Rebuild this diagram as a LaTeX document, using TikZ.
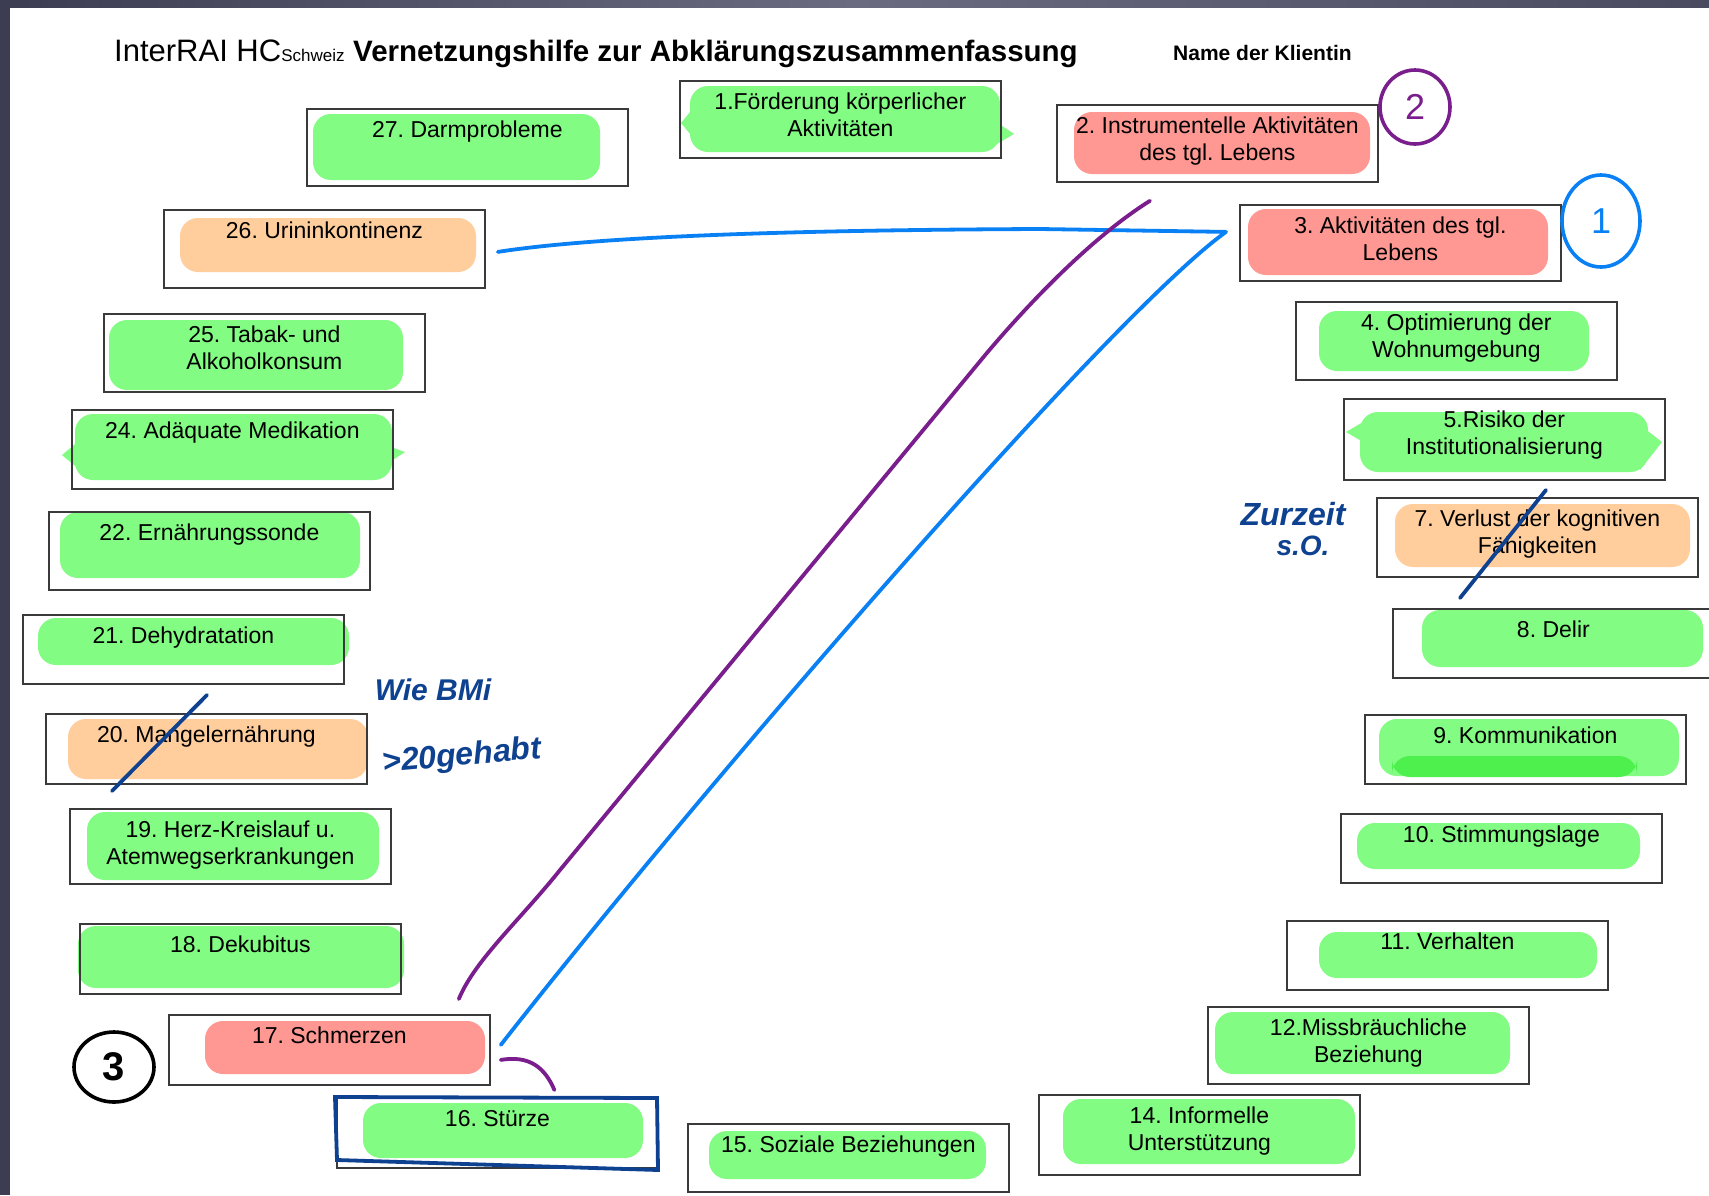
\documentclass[tikz,border=0pt]{standalone}
\usepackage{fontspec}
\setmainfont{Liberation Sans}
\usepackage{tikz}
\usetikzlibrary{shapes.geometric,positioning}
\definecolor{mgreen}{HTML}{82FC82}
\definecolor{mdeep}{HTML}{4EF04E}
\definecolor{msalmon}{HTML}{FF9892}
\definecolor{mpeach}{HTML}{FFCE9C}
\definecolor{inkblue}{HTML}{0A80F5}
\definecolor{inkpurple}{HTML}{7A1E8E}
\definecolor{inknavy}{HTML}{0E4290}
\definecolor{frameline}{HTML}{3A3A3A}
\definecolor{screendark}{HTML}{3C3D52}
\definecolor{screenlight}{HTML}{6A6B80}
\frenchspacing

\begin{document}
\begin{tikzpicture}[x=1pt, y=-1pt,
  probbox/.style={rectangle, draw=frameline, line width=1.8pt, minimum width=321pt,
                  anchor=north west, inner sep=0pt},
  probtext/.style={anchor=north, yshift=-13pt, align=center, inner sep=0pt,
                   font=\fontsize{23}{27}\selectfont},
  marker/.style={rounded corners=18pt},
  ink/.style={line width=3.8pt, line cap=round, line join=round},
  circ/.style={ellipse, draw, line width=3.6pt, inner sep=0pt,
               font=\fontsize{36}{36}\selectfont},
  hand/.style={text=inknavy, inner sep=0pt, font=\bfseries\itshape\fontsize{32}{32}\selectfont}
]
  \useasboundingbox (0,0) rectangle (1709,1195);
  \fill[screendark] (0,0) rectangle (1709,1195);
  \shade[left color=screendark, right color=screendark!70!screenlight, middle color=screenlight] (0,0) rectangle (1709,8);
  \fill[white] (10,8) rectangle (1709,1195);

  \node[anchor=base west, inner sep=0pt, font=\fontsize{31}{31}\selectfont] (title) at (114,61)
    {InterRAI HC{\fontsize{17}{17}\selectfont Schweiz} {\bfseries\fontsize{29.5}{30}\selectfont Vernetzungshilfe zur Abklärungszusammenfassung}};
  \node[anchor=base west, inner sep=0pt, font=\bfseries\fontsize{21}{21}\selectfont] (client) at (1173,60) {Name der Klientin};

  \fill[marker, mgreen] (313,114) rectangle (600,180);
  \fill[marker, mgreen] (690,86) rectangle (1000,152);
  \fill[mgreen] (700,100) -- (681,123) -- (700,146) -- cycle;
  \fill[mgreen] (990,118) -- (1014,134) -- (990,148) -- cycle;
  \fill[marker, msalmon] (1074,112) rectangle (1370,174);
  \fill[marker, msalmon] (1248,209) rectangle (1548,275);
  \fill[marker, mgreen] (1319,311) rectangle (1589,371);
  \fill[marker, mgreen] (1360,412) rectangle (1648,472);
  \fill[mgreen] (1370,418) -- (1346,432) -- (1370,446) -- cycle;
  \fill[mgreen] (1640,425) -- (1662,442) -- (1640,470) -- cycle;
  \fill[marker, mpeach] (1395,504) rectangle (1690,567);
  \fill[marker, mgreen] (1422,610) rectangle (1703,667);
  \fill[marker, mgreen] (1379,719) rectangle (1679,776);
  \fill[marker, mdeep] (1392,756) rectangle (1637,777);
  \fill[marker, mgreen] (1357,823) rectangle (1640,869);
  \fill[marker, mgreen] (1319,932) rectangle (1597,978);
  \fill[marker, mgreen] (1215,1012) rectangle (1510,1074);
  \fill[marker, mgreen] (1063,1099) rectangle (1355,1164);
  \fill[marker, mgreen] (709,1131) rectangle (986,1179);
  \fill[marker, mgreen] (363,1103) rectangle (643,1158);
  \fill[marker, msalmon] (205,1021) rectangle (485,1074);
  \fill[marker, mgreen] (78,926) rectangle (404,988);
  \fill[marker, mgreen] (87,812) rectangle (379,880);
  \fill[marker, mpeach] (68,719) rectangle (368,779);
  \fill[marker, mgreen] (38,618) rectangle (349,665);
  \fill[marker, mgreen] (60,512) rectangle (360,578);
  \fill[marker, mgreen] (75,414) rectangle (392,480);
  \fill[mgreen] (80,440) -- (62,455) -- (80,470) -- cycle;
  \fill[mgreen] (385,445) -- (405,452) -- (385,465) -- cycle;
  \fill[marker, mgreen] (109,320) rectangle (403,390);
  \fill[marker, mpeach] (180,218) rectangle (476,272);

  \node[probbox, minimum height=77, label={[probtext]north:{27. Darmprobleme}}] (b27) at (306,108) {};
  \node[probbox, minimum height=77, label={[probtext]north:{1.Förderung körperlicher\\Aktivitäten}}] (b1) at (679,80) {};
  \node[probbox, minimum height=77, label={[probtext]north:{2. Instrumentelle Aktivitäten\\des tgl. Lebens}}] (b2) at (1056,104) {};
  \node[probbox, minimum height=76, label={[probtext]north:{3. Aktivitäten des tgl.\\Lebens}}] (b3) at (1239,204) {};
  \node[probbox, minimum height=78, label={[probtext]north:{4. Optimierung der\\Wohnumgebung}}] (b4) at (1295,301) {};
  \node[probbox, minimum height=81, label={[probtext]north:{5.Risiko der\\Institutionalisierung}}] (b5) at (1343,398) {};
  \node[probbox, minimum height=79, label={[probtext]north:{7. Verlust der kognitiven\\Fähigkeiten}}] (b7) at (1376,497) {};
  \node[probbox, minimum height=69, label={[probtext]north:{8. Delir}}] (b8) at (1392,608) {};
  \node[probbox, minimum height=69, label={[probtext]north:{9. Kommunikation}}] (b9) at (1364,714) {};
  \node[probbox, minimum height=69, label={[probtext]north:{10. Stimmungslage}}] (b10) at (1340,813) {};
  \node[probbox, minimum height=69, label={[probtext]north:{11. Verhalten}}] (b11) at (1286,920) {};
  \node[probbox, minimum height=77, label={[probtext]north:{12.Missbräuchliche\\Beziehung}}] (b12) at (1207,1006) {};
  \node[probbox, minimum height=80, label={[probtext]north:{14. Informelle\\Unterstützung}}] (b14) at (1038,1094) {};
  \node[probbox, minimum height=68, label={[probtext]north:{15. Soziale Beziehungen}}] (b15) at (687,1123) {};
  \node[probbox, minimum height=70, label={[probtext]north:{16. Stürze}}] (b16) at (336,1097) {};
  \node[probbox, minimum height=70, label={[probtext]north:{17. Schmerzen}}] (b17) at (168,1014) {};
  \node[probbox, minimum height=70, label={[probtext]north:{18. Dekubitus}}] (b18) at (79,923) {};
  \node[probbox, minimum height=75, label={[probtext]north:{19. Herz-Kreislauf u.\\Atemwegserkrankungen}}] (b19) at (69,808) {};
  \node[probbox, minimum height=70, label={[probtext]north:{20. Mangelernährung}}] (b20) at (45,713) {};
  \node[probbox, minimum height=69, label={[probtext]north:{21. Dehydratation}}] (b21) at (22,614) {};
  \node[probbox, minimum height=78, label={[probtext]north:{22. Ernährungssonde}}] (b22) at (48,511) {};
  \node[probbox, minimum height=79, label={[probtext]north:{24. Adäquate Medikation}}] (b24) at (71,409) {};
  \node[probbox, minimum height=78, label={[probtext]north:{25. Tabak- und\\Alkoholkonsum}}] (b25) at (103,313) {};
  \node[probbox, minimum height=78, label={[probtext]north:{26. Urininkontinenz}}] (b26) at (163,209) {};

  \draw[ink, draw=inkblue] ([xshift=12pt,yshift=-3pt]b26.east) .. controls (600,236) and (800,230) .. (1040,229)
    -- ([xshift=-13pt,yshift=11pt]b3.west) .. controls (1110,315) and (700,790) .. ([xshift=10pt,yshift=5pt]b17.east);
  \draw[ink, draw=inkpurple] ([xshift=94pt,yshift=-18pt]b2.south west) .. controls (1100,232) and (1040,290) .. (986,354)
    -- (560,870) .. controls (520,920) and (475,960) .. ([xshift=-32pt,yshift=15pt]b17.north east);
  \draw[ink, draw=inkpurple] ([xshift=10pt,yshift=-10pt]b17.east) .. controls (530,1055) and (545,1068) .. ([xshift=57pt,yshift=7pt]b16.north);

  \draw[ink, draw=inknavy, line join=miter] (335,1097) -- (657,1098) -- (658,1170) -- (337,1160) -- cycle;
  \draw[ink, draw=inknavy] (1546,490) -- (1460,598);
  \draw[ink, draw=inknavy] (207,695) -- (112,791);

  \node[circ, draw=inkpurple, text=inkpurple, minimum width=70pt, minimum height=74pt] (c2) at (1415,107) {2};
  \node[circ, draw=inkblue, text=inkblue, minimum width=78pt, minimum height=92pt] (c1) at (1601,221) {1};
  \node[circ, draw=black, text=black, minimum width=80pt, minimum height=70pt, font=\bfseries\fontsize{40}{40}\selectfont] (c3) at (114,1067) {3};

  \node[hand] (note7) at (1293,514) {Zurzeit};
  \node[hand, font=\bfseries\itshape\fontsize{28}{28}\selectfont, below=10pt of note7, xshift=10pt] (note7b) {s.O.};
  \node[hand, font=\bfseries\itshape\fontsize{30}{30}\selectfont] (note20) at (433,690) {Wie BMi};
  \node[hand, rotate=5] (note20b) at (462,757) {>20gehabt};
\end{tikzpicture}
\end{document}
